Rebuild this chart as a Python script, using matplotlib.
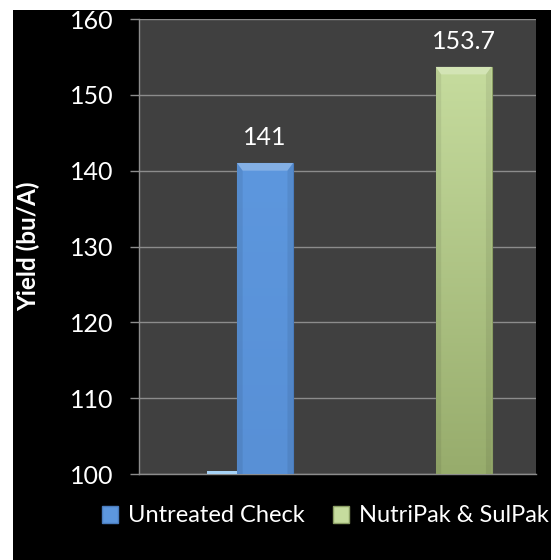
import matplotlib.pyplot as plt
import matplotlib.patches as mpatches
import matplotlib.colors as mcolors
import numpy as np

# Данные
categories = ['Untreated Check', 'NutriPak & SulPak']
values = [141, 153.7]
labels = ['141', '153.7']
top_colors = ['#5d97de', '#c6dc9e']
bottom_colors = ['#5890d6', '#97ac6c']
edge_colors = ['#4a7cbd', '#8a9e64']
ymin, ymax = 100, 160

plt.rcParams['font.family'] = ['Lato', 'DejaVu Sans']

fig = plt.figure(figsize=(5.57, 5.6), dpi=100, facecolor='white')
# чёрный фон диаграммы (белая полоса сверху и справа, как на картинке)
fig.patches.append(mpatches.Rectangle((13 / 557, 0), (551 - 13) / 557, 1 - 10 / 560,
                                      transform=fig.transFigure, facecolor='black',
                                      edgecolor='none', zorder=-10))

ax = fig.add_axes([139 / 557, 1 - 474 / 560, (536 - 139) / 557, (474 - 19) / 560])
ax.set_facecolor('#404040')

x = np.arange(len(categories))
width = 0.282
bars = ax.bar(x, [v - ymin for v in values], width, bottom=ymin,
              color=top_colors, edgecolor=edge_colors, linewidth=0.8, zorder=3)

# градиент и фаска на столбиках
for bar, c_top, c_bot in zip(bars, top_colors, bottom_colors):
    x0, y0 = bar.get_x(), bar.get_y()
    w, h = bar.get_width(), bar.get_height()
    t = np.linspace(0, 1, 256)[:, None]
    c1 = np.array(mcolors.to_rgb(c_top))
    c2 = np.array(mcolors.to_rgb(c_bot))
    img = (c1 * (1 - t) + c2 * t)[:, None, :].repeat(2, axis=1)
    im = ax.imshow(img, extent=(x0, x0 + w, y0, y0 + h), aspect='auto',
                   origin='upper', zorder=3.5)
    im.set_clip_path(bar)
    dx, dy = w * 0.1, 1.0
    top = y0 + h
    bevel = mpatches.Polygon([(x0, top), (x0 + w, top), (x0 + w - dx, top - dy), (x0 + dx, top - dy)],
                             closed=True, facecolor='white', alpha=0.25, edgecolor='none', zorder=4)
    ax.add_patch(bevel)
    for side in (-1, 1):
        xs = x0 if side < 0 else x0 + w
        xi = x0 + dx if side < 0 else x0 + w - dx
        shade = mpatches.Polygon([(xs, top), (xi, top - dy), (xi, y0), (xs, y0)],
                                 closed=True, facecolor='black', alpha=0.07,
                                 edgecolor='none', zorder=4)
        ax.add_patch(shade)

# тонкая голубая полоска у основания слева от первого столбика
ax.bar(x[0] - width / 2 - 0.075, 0.35, 0.15, bottom=ymin, color='#a6d2f6', zorder=3)

# Добавление значений над столбиками
for bar, lab in zip(bars, labels):
    ax.annotate(lab, (bar.get_x() + bar.get_width() / 2, bar.get_y() + bar.get_height()),
                xytext=(0, 13), textcoords='offset points', ha='center', va='baseline',
                color='white', fontsize=18)

ax.set_xlim(-0.635, 1.365)
ax.set_ylim(ymin, ymax)
ax.set_yticks(range(ymin, ymax + 1, 10))
ax.set_xticks([])
ax.grid(axis='y', color='#8c8c8c', linewidth=1, zorder=1)
ax.set_axisbelow(True)
for s in ['top', 'right']:
    ax.spines[s].set_visible(False)
for s in ['left', 'bottom']:
    ax.spines[s].set_color('#8c8c8c')
    ax.spines[s].set_linewidth(1)
ax.tick_params(axis='y', colors='#8c8c8c', labelcolor='white', labelsize=18,
               length=6.5, width=1, pad=12)
ax.set_ylabel('Yield (bu/A)', color='white', fontsize=17.5, fontweight='bold', labelpad=21)

handles = [mpatches.Patch(facecolor=c, edgecolor=e) for c, e in zip(top_colors, edge_colors)]
fig.legend(handles, categories, loc='center', bbox_to_anchor=(325 / 557, 1 - 516 / 560),
           ncol=2, frameon=False, fontsize=17, labelcolor='white',
           handlelength=0.7, handleheight=0.7, handletextpad=0.4, columnspacing=1.2)

fig.savefig('out.png', dpi=100, facecolor=fig.get_facecolor())
